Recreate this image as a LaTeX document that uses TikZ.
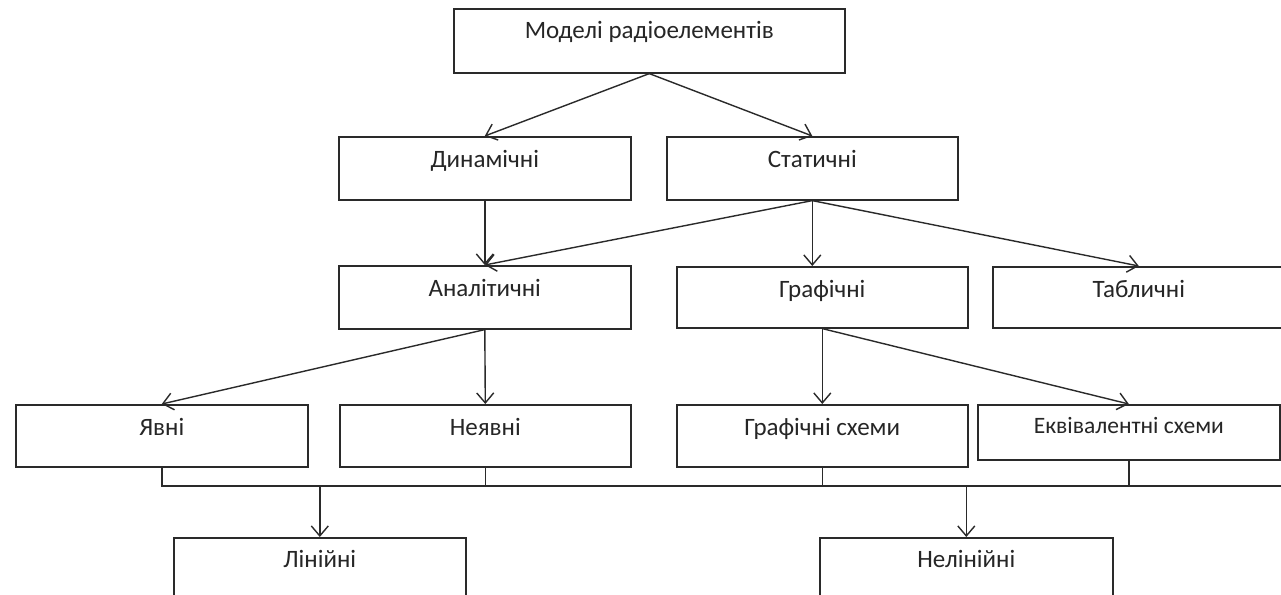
\documentclass[tikz,border=0pt]{standalone}
\usepackage{fontspec}
\setmainfont{Carlito}
\usetikzlibrary{arrows.meta,calc}
\definecolor{linec}{HTML}{2A2A2A}
\definecolor{txtc}{HTML}{262626}
\tikzset{
  box/.style={draw=linec, line width=1.6pt, fill=white, inner sep=0pt, anchor=north west},
  lbl/.style={text=txtc, font=\fontsize{25}{28}\selectfont, anchor=base, inner sep=0pt},
  lblsmall/.style={text=txtc, font=\fontsize{23.5}{26}\selectfont, anchor=base, inner sep=0pt},
  conn/.style={draw=linec, line width=1.4pt},
  arr/.style={conn, -{Straight Barb[length=10pt,width=17pt,line width=1.4pt]}},
}
\begin{document}
\begin{tikzpicture}[x=1pt,y=-1pt]
\useasboundingbox (0,0) rectangle (1281,594);
\clip (0,0) rectangle (1281,594);
\fill[white] (0,0) rectangle (1281,594);
% row 1
\node[box, minimum width=391pt, minimum height=64pt,
  label={[lbl, yshift=-31pt]north:Моделі радіоелементів}] (top) at (453,8) {};
% row 2
\node[box, minimum width=292pt, minimum height=63pt,
  label={[lbl, yshift=-31pt]north:Динамічні}] (dyn) at (338,136) {};
\node[box, minimum width=291pt, minimum height=63pt,
  label={[lbl, yshift=-31pt]north:Статичні}] (stat) at (666,136) {};
% row 3
\node[box, minimum width=292pt, minimum height=63pt,
  label={[lbl, yshift=-31pt]north:Аналітичні}] (ana) at (338,265) {};
\node[box, minimum width=291pt, minimum height=61pt,
  label={[lbl, yshift=-31pt]north:Графічні}] (graf) at (676,266) {};
\node[box, minimum width=292pt, minimum height=61pt,
  label={[lbl, yshift=-31pt]north:Табличні}] (tab) at (992,266) {};
% row 4
\node[box, minimum width=292pt, minimum height=62pt,
  label={[lbl, yshift=-31pt]north:Явні}] (yav) at (15,404) {};
\node[box, minimum width=291pt, minimum height=62pt,
  label={[lbl, yshift=-31pt]north:Неявні}] (ney) at (339,404) {};
\node[box, minimum width=291pt, minimum height=62pt,
  label={[lbl, yshift=-31pt]north:Графічні схеми}] (gs) at (676,404) {};
\node[box, minimum width=302pt, minimum height=55pt,
  label={[lblsmall, yshift=-29pt]north:Еквівалентні схеми}] (eq) at (977,404) {};
% row 5
\node[box, minimum width=292pt, minimum height=80pt,
  label={[lbl, yshift=-30pt]north:Лінійні}] (lin) at (173,537) {};
\node[box, minimum width=293pt, minimum height=80pt,
  label={[lbl, yshift=-30pt]north:Нелінійні}] (nel) at (819,537) {};
% connectors
\draw[arr] (top.south) -- (dyn.north);
\draw[arr] (top.south) -- (stat.north);
\draw[arr] (dyn.south) -- (ana.north);
\draw[arr] (stat.south) -- (ana.north);
\draw[arr] (stat.south) -- (stat.south |- graf.north);
\draw[arr] (stat.south) -- (tab.north);
\draw[arr] (ana.south) -- (yav.north);
\draw[arr] (ana.south) -- (ney.north);
\draw[arr] (graf.south) -- (gs.north);
\draw[arr] (graf.south) -- (eq.north);
% bus
\coordinate (busL) at (161,486);
\coordinate (busR) at (1281,486);
\draw[conn] (busL) -- (busR);
\draw[conn] (yav.south) -- (yav.south |- busL);
\draw[conn] (ney.south) -- (ney.south |- busL);
\draw[conn] (gs.south) -- (gs.south |- busL);
\draw[conn] (eq.south) -- (eq.south |- busL);
\draw[arr] (lin.north |- busL) -- (lin.north);
\draw[arr] (nel.north |- busL) -- (nel.north);
\end{tikzpicture}
\end{document}
